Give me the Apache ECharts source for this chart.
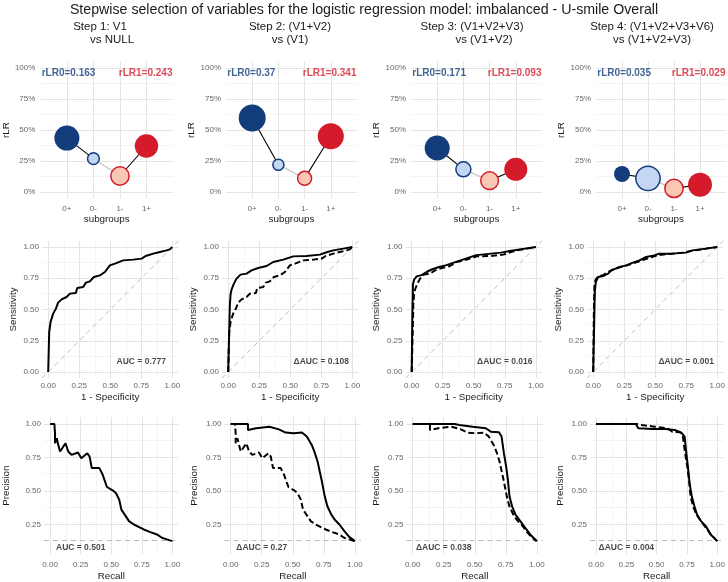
<!DOCTYPE html>
<html>
<head>
<meta charset="utf-8">
<script src="https://cdn.jsdelivr.net/npm/echarts@6/dist/echarts.min.js"></script>
<style>
  html, body { margin: 0; padding: 0; background: #fff; }
  #chart { width: 728px; height: 582px; }
</style>
</head>
<body>
<div id="chart"></div>
<script>
// ---- data ----
const subgroups = ['0+', '0-', '1-', '1+'];
const stepLine1 = ['Step 1: V1', 'Step 2: (V1+V2)', 'Step 3: (V1+V2+V3)', 'Step 4: (V1+V2+V3+V6)'];
const stepLine2 = ['vs NULL', 'vs (V1)', 'vs (V1+V2)', 'vs (V1+V2+V3)'];

// rLR per subgroup (0+, 0-, 1-, 1+) for each step
const rlrStep1 = [0.435, 0.269, 0.129, 0.371];
const rlrStep2 = [0.597, 0.220, 0.110, 0.449];
const rlrStep3 = [0.355, 0.183, 0.091, 0.183];
const rlrStep4 = [0.145, 0.110, 0.029, 0.058];
// relative bubble weight per subgroup
const wStep1 = [0.86, 0.19, 0.46, 0.75];
const wStep2 = [1.00, 0.17, 0.27, 0.93];
const wStep3 = [0.86, 0.31, 0.43, 0.73];
const wStep4 = [0.35, 0.81, 0.46, 0.79];
const rLR0 = [0.163, 0.37, 0.171, 0.035];
const rLR1 = [0.243, 0.341, 0.093, 0.029];

// ROC curves [1 - specificity, sensitivity]
const roc1 = [[0,0],[0.008,0.32],[0.019,0.40],[0.04,0.467],[0.062,0.507],[0.08,0.555],[0.108,0.581],[0.148,0.60],[0.175,0.627],[0.223,0.632],[0.234,0.672],[0.282,0.68],[0.304,0.715],[0.336,0.725],[0.368,0.76],[0.417,0.773],[0.457,0.8],[0.497,0.853],[0.538,0.867],[0.605,0.893],[0.685,0.899],[0.753,0.907],[0.785,0.928],[0.847,0.947],[0.9,0.96],[0.954,0.973],[0.98,0.981],[1,1]];
const roc2 = [[0,0],[0.008,0.32],[0.013,0.53],[0.019,0.62],[0.027,0.66],[0.046,0.707],[0.067,0.747],[0.099,0.779],[0.148,0.787],[0.188,0.813],[0.242,0.832],[0.309,0.848],[0.363,0.88],[0.444,0.899],[0.524,0.925],[0.632,0.928],[0.739,0.939],[0.8,0.96],[0.847,0.973],[0.927,0.987],[1,1]];
const roc3 = [[0,0],[0.005,0.45],[0.01,0.7],[0.02,0.74],[0.04,0.765],[0.08,0.775],[0.12,0.8],[0.16,0.82],[0.22,0.84],[0.28,0.855],[0.34,0.875],[0.4,0.895],[0.46,0.915],[0.52,0.935],[0.62,0.945],[0.72,0.955],[0.8,0.97],[0.9,0.985],[1,1]];
const roc4 = [[0,0],[0.008,0.4],[0.013,0.64],[0.021,0.72],[0.04,0.76],[0.08,0.768],[0.12,0.787],[0.147,0.813],[0.213,0.84],[0.267,0.853],[0.32,0.875],[0.373,0.893],[0.427,0.92],[0.493,0.933],[0.533,0.947],[0.64,0.947],[0.747,0.955],[0.8,0.973],[0.907,0.987],[1,1]];

// precision-recall curves [recall, precision]
const pr1 = [[0,1],[0.035,1],[0.04,0.93],[0.04,0.856],[0.054,0.894],[0.067,0.844],[0.081,0.795],[0.099,0.819],[0.126,0.856],[0.148,0.795],[0.175,0.77],[0.228,0.787],[0.255,0.745],[0.304,0.782],[0.323,0.757],[0.341,0.671],[0.403,0.671],[0.43,0.621],[0.465,0.53],[0.511,0.505],[0.538,0.485],[0.565,0.436],[0.583,0.361],[0.61,0.324],[0.645,0.275],[0.685,0.25],[0.766,0.213],[0.82,0.193],[0.874,0.176],[0.914,0.151],[0.954,0.139],[1,0.126]];
const pr2 = [[0,1],[0.139,1],[0.139,0.955],[0.205,0.968],[0.311,0.98],[0.389,0.96],[0.442,0.936],[0.508,0.931],[0.574,0.936],[0.613,0.906],[0.653,0.844],[0.679,0.782],[0.7,0.72],[0.732,0.584],[0.745,0.584],[0.758,0.46],[0.779,0.386],[0.811,0.324],[0.837,0.287],[0.876,0.25],[0.916,0.2],[0.955,0.158],[1,0.126]];
const pr3 = [[0,1],[0.337,1],[0.377,0.993],[0.483,0.98],[0.589,0.968],[0.629,0.943],[0.695,0.938],[0.716,0.906],[0.735,0.782],[0.753,0.683],[0.767,0.584],[0.78,0.46],[0.801,0.386],[0.828,0.324],[0.867,0.275],[0.907,0.225],[0.947,0.176],[1,0.126]];
const pr4 = [[0,1],[0.328,1],[0.349,0.968],[0.462,0.963],[0.57,0.963],[0.65,0.955],[0.704,0.936],[0.731,0.906],[0.745,0.782],[0.758,0.683],[0.772,0.559],[0.79,0.46],[0.812,0.386],[0.833,0.324],[0.866,0.275],[0.906,0.238],[0.946,0.176],[1,0.126]];

const rocAuc = [0.777, 0.108, 0.016, 0.001];
const prAuc = [0.501, 0.27, 0.038, 0.004];
const prevalence = 0.125;

const majorTicks = [0, 0.25, 0.5, 0.75, 1];
const minorTicks = [0.125, 0.375, 0.625, 0.875];

// ---- layout / style ----
const FONT = '"Liberation Sans", Arial, sans-serif';
const NAVY = '#133c7b', RED = '#d41a2b';
const fills = [NAVY, '#c3d6f4', '#f9c8b3', RED];
const borders = [NAVY, NAVY, RED, RED];
const segColors = ['#000', '#bdbdbd', '#000'];

const rlrSteps = [rlrStep1, rlrStep2, rlrStep3, rlrStep4];
const wSteps = [wStep1, wStep2, wStep3, wStep4];
const rocs = [roc1, roc2, roc3, roc4];
const prs = [pr1, pr2, pr3, pr4];

const topLeft = [40, 226, 411, 596], topWidth = [133, 131, 131, 130];
const rocLeft = [42, 222, 405.5, 587];
const prLeft = [42, 224.5, 406.5, 590];
const prNameGap = [33, 25, 25, 25];

const grids = [], xAxes = [], yAxes = [], series = [];
const tickText = { fontSize: 8, color: '#666', fontFamily: FONT };
const nameText = { fontSize: 9.8, color: '#1a1a1a', fontFamily: FONT };

function addGrid(left, top, width, height) {
  grids.push({ left, top, width, height });
  return grids.length - 1;
}

function axis(g, min, max, labels, fmt, margin, name, gap) {
  return {
    gridIndex: g, type: 'value', min, max,
    axisLine: { show: false }, axisTick: { show: false }, splitLine: { show: false },
    axisLabel: Object.assign({ customValues: labels, formatter: fmt, margin }, tickText),
    name, nameLocation: 'middle', nameGap: gap, nameTextStyle: nameText
  };
}

// panel grid lines, drawn behind everything else
function gridSeries(g, xMajor, xMinor, yMajor, yMinor, extra) {
  const minor = { color: '#f1f1f1', width: 0.8, type: 'solid' };
  const major = { color: '#e4e4e4', width: 1, type: 'solid' };
  const data = []
    .concat(xMinor.map(v => ({ xAxis: v, lineStyle: minor })))
    .concat(yMinor.map(v => ({ yAxis: v, lineStyle: minor })))
    .concat(xMajor.map(v => ({ xAxis: v, lineStyle: major })))
    .concat(yMajor.map(v => ({ yAxis: v, lineStyle: major })))
    .concat(extra || []);
  return {
    type: 'line', xAxisIndex: g, yAxisIndex: g, data: [], silent: true, z: 0,
    markLine: { z: 0, silent: true, symbol: ['none', 'none'], label: { show: false }, animation: false, data }
  };
}

function textSeries(g, items) {
  return {
    type: 'scatter', xAxisIndex: g, yAxisIndex: g, symbolSize: 0, silent: true, z: 6, clip: false,
    label: { show: true, position: 'inside', fontSize: 8.5, fontWeight: 'bold', color: '#1a1a1a', fontFamily: FONT },
    data: items
  };
}

const fmt2 = v => v.toFixed(2);

// ---- row 1: U-smile ----
rlrSteps.forEach((vals, k) => {
  const g = addGrid(topLeft[k], 61.8, topWidth[k], 136.4);
  xAxes.push(axis(g, 0, 5, [1, 2, 3, 4], v => subgroups[v - 1], 7, 'subgroups', 15));
  yAxes.push(axis(g, -0.05, 1.05, majorTicks, v => Math.round(v * 100) + '%', 5, 'rLR', 26));
  series.push(gridSeries(g, [1, 2, 3, 4], [], majorTicks, minorTicks));
  const pts = vals.map((v, i) => [i + 1, v]);
  segColors.forEach((c, j) => series.push({
    type: 'line', xAxisIndex: g, yAxisIndex: g, data: [pts[j], pts[j + 1]],
    symbol: 'none', silent: true, z: 2, lineStyle: { color: c, width: 1.1 }
  }));
  series.push({
    type: 'scatter', xAxisIndex: g, yAxisIndex: g, z: 3, clip: false, silent: true,
    data: pts.map((p, i) => ({
      value: p,
      symbolSize: 27 * Math.sqrt(wSteps[k][i]),
      itemStyle: { color: fills[i], borderColor: borders[i], borderWidth: (i === 1 || i === 2) ? 1.5 : 0, opacity: 1 }
    }))
  });
  series.push(textSeries(g, [
    { value: [0.05, 0.96], label: { formatter: 'rLR0=' + rLR0[k], align: 'left', color: NAVY, fontSize: 10 } },
    { value: [4.98, 0.96], label: { formatter: 'rLR1=' + rLR1[k], align: 'right', color: RED, fontSize: 10 } }
  ]));
});

// ---- row 2: ROC ----
rocs.forEach((curve, k) => {
  const g = addGrid(rocLeft[k], 240.75, 136.5, 137.5);
  xAxes.push(axis(g, -0.05, 1.05, majorTicks, fmt2, 4, '1 - Specificity', 14.5));
  yAxes.push(axis(g, -0.05, 1.05, majorTicks, fmt2, 3, 'Sensitivity', 24));
  series.push(gridSeries(g, majorTicks, minorTicks, majorTicks, minorTicks));
  series.push({
    type: 'line', xAxisIndex: g, yAxisIndex: g, data: [[-0.05, -0.05], [1.05, 1.05]],
    symbol: 'none', silent: true, z: 1, lineStyle: { color: '#bdbdbd', width: 1, type: [5, 4] }
  });
  if (k > 0) series.push({
    type: 'line', xAxisIndex: g, yAxisIndex: g, data: rocs[k - 1], symbol: 'none', silent: true, z: 2,
    lineStyle: { color: '#000', width: 2, type: [6, 3] }
  });
  series.push({
    type: 'line', xAxisIndex: g, yAxisIndex: g, data: curve, symbol: 'none', silent: true, z: 3,
    lineStyle: { color: '#000', width: 2 }
  });
  series.push(textSeries(g, [{ value: [0.75, 0.08], label: { formatter: (k ? 'ΔAUC = ' : 'AUC = ') + rocAuc[k] } }]));
});

// ---- row 3: precision-recall ----
prs.forEach((curve, k) => {
  const g = addGrid(prLeft[k], 417.3, 136.5, 137.3);
  xAxes.push(axis(g, -0.05, 1.05, majorTicks, fmt2, 7, 'Recall', 17));
  yAxes.push(axis(g, 0.03, 1.05, [0.25, 0.5, 0.75, 1], fmt2, 3, 'Precision', prNameGap[k]));
  series.push(gridSeries(g, majorTicks, minorTicks, [0.25, 0.5, 0.75, 1], [0.375, 0.625, 0.875]));
  series.push({
    type: 'line', xAxisIndex: g, yAxisIndex: g, data: [], silent: true, z: 1,
    markLine: { z: 1, silent: true, symbol: ['none', 'none'], label: { show: false }, animation: false,
      data: [{ yAxis: prevalence }], lineStyle: { color: '#bdbdbd', width: 1, type: [5, 4] } }
  });
  if (k > 0) series.push({
    type: 'line', xAxisIndex: g, yAxisIndex: g, data: prs[k - 1], symbol: 'none', silent: true, z: 2,
    lineStyle: { color: '#000', width: 2, type: [6, 3] }
  });
  series.push({
    type: 'line', xAxisIndex: g, yAxisIndex: g, data: curve, symbol: 'none', silent: true, z: 3,
    lineStyle: { color: '#000', width: 2 }
  });
  series.push(textSeries(g, [{ value: [0.25, 0.08], label: { formatter: (k ? 'ΔAUC = ' : 'AUC = ') + prAuc[k] } }]));
});

// ---- titles ----
const line1X = [100, 290, 472, 652];
const line2X = [112, 290, 484, 652];
const graphic = [{
  type: 'text', x: 364, y: 10,
  style: { text: 'Stepwise selection of variables for the logistic regression model: imbalanced - U-smile Overall',
    font: '14.2px ' + FONT, fill: '#1a1a1a', align: 'center', verticalAlign: 'middle' }
}];
stepLine1.forEach((t, k) => {
  graphic.push({ type: 'text', x: line1X[k], y: 27, style: { text: t, font: '11.5px ' + FONT, fill: '#1a1a1a', align: 'center', verticalAlign: 'middle' } });
  graphic.push({ type: 'text', x: line2X[k], y: 40, style: { text: stepLine2[k], font: '11.5px ' + FONT, fill: '#1a1a1a', align: 'center', verticalAlign: 'middle' } });
});

const chart = echarts.init(document.getElementById('chart'));
chart.setOption({
  animation: false,
  backgroundColor: '#fff',
  textStyle: { fontFamily: FONT },
  grid: grids,
  xAxis: xAxes,
  yAxis: yAxes,
  series,
  graphic
});
</script>
</body>
</html>
